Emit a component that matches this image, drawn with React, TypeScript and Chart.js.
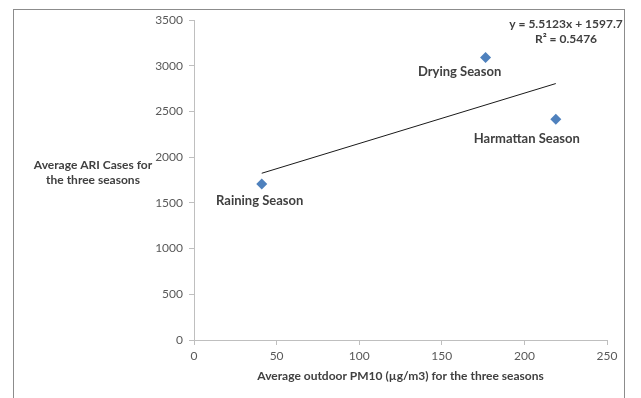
import React, { useEffect, useRef } from "react";
import { Chart, registerables } from "chart.js";

Chart.register(...registerables);

const seasons = ["Raining Season", "Drying Season", "Harmattan Season"];
const pm10Values = [41, 176.5, 219];
const ariCases = [1705, 3090, 2415];
const trendSlope = 5.5123;
const trendIntercept = 1597.7;
const equationLines = ["y = 5.5123x + 1597.7", "R² = 0.5476"];
const yAxisTitle = ["Average ARI Cases for", "the three seasons"];
const xAxisTitle = "Average outdoor PM10 (µg/m3) for the three seasons";

const FONT = "Lato, 'Open Sans', sans-serif";
const labelOffsets = [
  { dx: -2, dy: 17 },
  { dx: -26, dy: 14 },
  { dx: -29, dy: 20 },
];

const decorPlugin = {
  id: "decor",
  beforeDraw(chart: any) {
    const { ctx, width, height } = chart;
    ctx.save();
    ctx.fillStyle = "#ffffff";
    ctx.fillRect(0, 0, width, height);
    ctx.strokeStyle = "#8c8c8c";
    ctx.lineWidth = 1;
    ctx.strokeRect(13.5, 9.5, 611, height + 10);
    ctx.restore();
  },
  afterDraw(chart: any) {
    const { ctx, chartArea } = chart;
    ctx.save();
    ctx.fillStyle = "#404040";
    ctx.font = `bold 13px ${FONT}`;
    ctx.textAlign = "center";
    ctx.textBaseline = "middle";
    const meta = chart.getDatasetMeta(0);
    meta.data.forEach((pt: any, i: number) => {
      const o = labelOffsets[i];
      ctx.fillText(seasons[i], pt.x + o.dx, pt.y + o.dy);
    });
    ctx.font = `bold 12px ${FONT}`;
    const ex = chartArea.right - 41;
    ctx.fillText(equationLines[0], ex, chartArea.top + 4);
    ctx.fillText(equationLines[1], ex, chartArea.top + 19);
    ctx.fillText(yAxisTitle[0], 93, 165);
    ctx.fillText(yAxisTitle[1], 93, 180);
    ctx.fillText(xAxisTitle, (chartArea.left + chartArea.right) / 2, 376);
    ctx.restore();
  },
};

export default function App() {
  const ref = useRef<HTMLCanvasElement | null>(null);
  useEffect(() => {
    if (!ref.current) return;
    const xMin = Math.min(...pm10Values);
    const xMax = Math.max(...pm10Values);
    const chart = new Chart(ref.current, {
      type: "scatter",
      data: {
        datasets: [
          {
            label: "Seasons",
            data: pm10Values.map((x, i) => ({ x, y: ariCases[i] })),
            pointStyle: "rectRot",
            pointRadius: 5.5,
            backgroundColor: "#4f81bd",
            borderColor: "#4f81bd",
            borderWidth: 0,
            order: 1,
          },
          {
            type: "line",
            label: "Trend",
            data: [
              { x: xMin, y: trendSlope * xMin + trendIntercept },
              { x: xMax, y: trendSlope * xMax + trendIntercept },
            ],
            borderColor: "#1a1a1a",
            borderWidth: 1,
            pointRadius: 0,
            fill: false,
            order: 2,
          } as any,
        ],
      },
      options: {
        animation: false,
        responsive: false,
        maintainAspectRatio: false,
        layout: { padding: { left: 0, right: 34, top: 20, bottom: 0 } },
        plugins: {
          legend: { display: false },
          tooltip: { enabled: false },
        },
        scales: {
          x: {
            type: "linear",
            min: 0,
            max: 250,
            ticks: {
              stepSize: 50,
              color: "#595959",
              font: { family: FONT, size: 12 },
              padding: 4,
              callback: (v: any) => String(v),
            },
            grid: {
              drawOnChartArea: false,
              drawTicks: true,
              tickLength: 5,
              color: "#bfbfbf",
            },
            border: { color: "#bfbfbf", width: 1 },
            afterFit(scale: any) {
              scale.height = 58;
            },
          },
          y: {
            type: "linear",
            min: 0,
            max: 3500,
            ticks: {
              stepSize: 500,
              color: "#595959",
              font: { family: FONT, size: 12 },
              padding: 6,
              callback: (v: any) => String(v),
            },
            grid: {
              drawOnChartArea: false,
              drawTicks: true,
              tickLength: 5,
              color: "#bfbfbf",
            },
            border: { color: "#bfbfbf", width: 1 },
            afterFit(scale: any) {
              scale.width = 194;
            },
          },
        },
      },
      plugins: [decorPlugin],
    });
    return () => chart.destroy();
  }, []);
  return (
    <div style={{ position: "fixed", left: 0, top: 0, width: 641, height: 398 }}>
      <canvas ref={ref} width={641} height={398} style={{ width: 641, height: 398 }} />
    </div>
  );
}
